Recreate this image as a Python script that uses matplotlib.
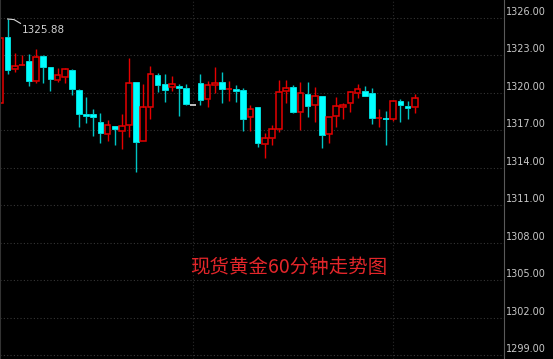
import numpy as np
import matplotlib
matplotlib.use("Agg")
from matplotlib import pyplot as plt

# 60-minute gold candles (open, high, low, close)
opens = [1319.16, 1324.44, 1321.88, 1322.18, 1322.52, 1320.92, 1322.92, 1322.04, 1321.00, 1321.24,
         1321.80, 1320.20, 1318.28, 1318.28, 1317.64, 1316.68, 1317.32, 1316.92, 1317.40, 1320.84,
         1316.12, 1318.84, 1321.40, 1320.68, 1320.44, 1320.52, 1320.36, 1319.00, 1320.76, 1319.48,
         1320.60, 1320.84, 1320.26, 1320.28, 1320.20, 1318.04, 1318.84, 1315.88, 1316.36, 1317.08,
         1320.12, 1320.44, 1318.44, 1319.88, 1319.00, 1319.72, 1316.68, 1318.12, 1318.84, 1319.16,
         1319.96, 1320.12, 1319.96, 1317.94, 1317.90, 1317.88, 1319.32, 1318.92, 1318.84]
highs = [1324.36, 1325.88, 1323.16, 1323.00, 1323.08, 1323.48, 1323.00, 1322.06, 1321.96, 1321.96,
         1321.86, 1320.28, 1319.64, 1318.68, 1318.36, 1317.80, 1317.32, 1318.28, 1322.76, 1320.84,
         1320.68, 1322.12, 1321.56, 1321.48, 1321.32, 1320.68, 1320.68, 1319.00, 1321.48, 1320.92,
         1322.04, 1321.64, 1320.92, 1320.60, 1320.36, 1319.00, 1318.84, 1316.76, 1317.40, 1321.00,
         1321.00, 1320.60, 1320.84, 1320.84, 1320.44, 1319.72, 1318.04, 1319.64, 1319.16, 1320.12,
         1320.68, 1320.52, 1320.36, 1318.68, 1318.52, 1319.40, 1319.48, 1319.32, 1319.88]
lows = [1319.16, 1321.48, 1321.64, 1322.18, 1320.52, 1320.76, 1320.76, 1320.12, 1320.84, 1320.76,
        1319.80, 1317.24, 1317.56, 1316.52, 1315.96, 1316.12, 1315.80, 1315.48, 1316.44, 1313.64,
        1316.12, 1317.88, 1320.04, 1319.24, 1320.12, 1318.12, 1319.00, 1319.00, 1319.00, 1318.84,
        1319.96, 1319.16, 1319.32, 1319.24, 1316.92, 1316.92, 1315.64, 1314.76, 1315.80, 1316.84,
        1319.16, 1318.36, 1317.00, 1318.04, 1317.64, 1315.56, 1315.96, 1317.24, 1317.88, 1318.44,
        1319.56, 1319.72, 1317.48, 1317.24, 1315.80, 1317.72, 1317.64, 1317.88, 1318.36]
closes = [1324.36, 1321.80, 1322.12, 1322.22, 1320.92, 1322.84, 1322.04, 1321.08, 1321.40, 1321.88,
          1320.28, 1318.28, 1318.12, 1318.04, 1316.76, 1317.40, 1317.08, 1317.32, 1320.76, 1316.04,
          1318.84, 1321.48, 1320.60, 1320.20, 1320.68, 1320.36, 1319.08, 1319.00, 1319.40, 1320.60,
          1320.76, 1320.28, 1320.30, 1320.12, 1317.88, 1318.68, 1315.96, 1316.36, 1317.08, 1320.04,
          1320.36, 1318.44, 1319.96, 1318.92, 1319.72, 1316.60, 1318.04, 1318.92, 1319.00, 1320.04,
          1320.28, 1319.72, 1317.96, 1317.98, 1317.86, 1319.32, 1319.00, 1318.76, 1319.56]

price_ticks = [1326, 1323, 1320, 1317, 1314, 1311, 1308, 1305, 1302, 1299]
title = "现货黄金60分钟走势图"
high_label = "1325.88"

RED = "#e60000"
CYAN = "#00ffff"
CYAN_WICK = "#00c4c4"

fig = plt.figure(figsize=(5.53, 3.59), dpi=100, facecolor="black")
ax = fig.add_axes([0, 0, 504 / 553, 1], facecolor="black")

x = np.arange(len(opens))
o = np.array(opens)
h = np.array(highs)
l = np.array(lows)
c = np.array(closes)
w = 0.8

for i in x:
    top = max(o[i], c[i])
    bot = min(o[i], c[i])
    if c[i] > o[i]:
        col = RED
        wick = RED
    elif c[i] < o[i]:
        col = CYAN
        wick = CYAN_WICK
    else:
        col = "#e0e0e0"
        wick = col
    if h[i] > top:
        ax.vlines(i, top, h[i], color=wick, lw=1)
    if l[i] < bot:
        ax.vlines(i, l[i], bot, color=wick, lw=1)
    if top - bot < 0.1:
        ax.hlines((top + bot) / 2, i - w / 2, i + w / 2, color=col, lw=1.2)
    elif c[i] > o[i]:
        ax.bar(i, top - bot, bottom=bot, width=w, facecolor="black",
               edgecolor=col, linewidth=1.1)
    else:
        ax.bar(i, top - bot, bottom=bot, width=w, facecolor=col,
               edgecolor=col, linewidth=0.5)

# grid
for p in price_ticks:
    ax.axhline(p, color="#363636", lw=0.8, ls=(0, (1, 2)), zorder=0)
    ax.text(1.004, p + 0.08, f"{p:.2f}", transform=ax.get_yaxis_transform(),
            color="#c8c8c8", fontsize=7, ha="left", va="bottom", clip_on=False)
for v in [27, 55]:
    ax.axvline(v, color="#2a2a2a", lw=0.8, ls=(0, (1, 2)), zorder=0)

# high marker
ihigh = int(np.argmax(h))
ax.plot([ihigh, ihigh + 0.9, ihigh + 1.8], [h[ihigh], h[ihigh] - 0.05, h[ihigh] - 0.35],
        color="#d8d8d8", lw=0.8)
ax.text(ihigh + 2.0, h[ihigh] - 0.9, high_label, color="#d0d0d0", fontsize=7.5,
        ha="left", va="center")

ax.text(40.4, 1306.0, title, color="#e3262a", fontsize=14, ha="center", va="center",
        family=["Noto Sans CJK SC", "DejaVu Sans"])

ax.set_xlim(-0.07, 70.5)
ax.set_ylim(1298.68, 1327.4)
ax.set_xticks([])
ax.set_yticks([])
for s in ["top", "bottom"]:
    ax.spines[s].set_visible(False)
ax.spines["right"].set_color("#5a5a5a")
ax.spines["left"].set_color("#333333")

fig.savefig("out.png", dpi=100, facecolor="black")
